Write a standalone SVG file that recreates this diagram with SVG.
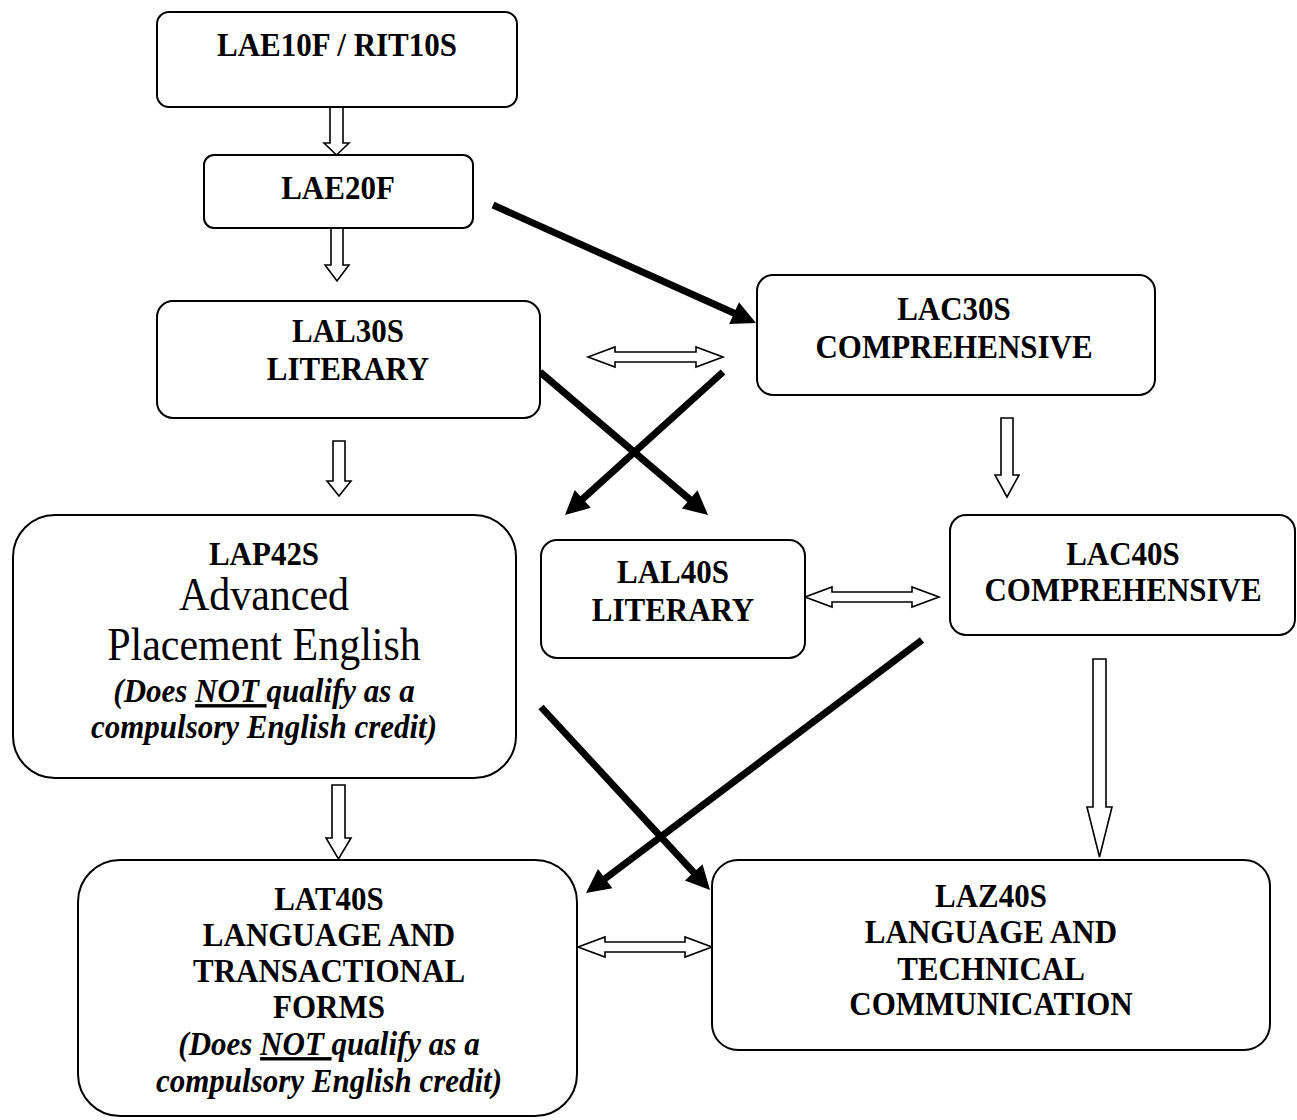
<svg xmlns="http://www.w3.org/2000/svg" width="1297" height="1120" viewBox="0 0 1297 1120">
  <style>
    .box { fill: #ffffff; stroke: #000000; stroke-width: 2; }
    .t { font-family: "Liberation Serif", "Times New Roman", serif; font-size: 31px; font-weight: bold; fill: #000000; text-anchor: middle; }
    .big { font-weight: normal; font-size: 42px; }
    .note { font-style: italic; }
    .u { text-decoration: underline; }
    .hollow { fill: #ffffff; stroke: #000000; stroke-width: 1.6; stroke-linejoin: miter; }
    .shaft { fill: none; stroke: #000000; stroke-width: 7; stroke-linecap: butt; }
    .head { fill: #000000; stroke: none; }
  </style>

  <!-- connectors -->
  <g id="connectors">
    <!-- hollow down arrows -->
    <polygon class="hollow" points="330,107 343,107 343,143 349,143 336.5,155 324,143 330,143"/>
    <polygon class="hollow" points="331,228 343,228 343,265 349,265 337,281 325,265 331,265"/>
    <polygon class="hollow" points="333,441 345,441 345,481 351,481 339,496 327,481 333,481"/>
    <polygon class="hollow" points="1001,418 1013,418 1013,475 1019,475 1007,497 995,475 1001,475"/>
    <polygon class="hollow" points="332,785 345,785 345,838 351,838 338.5,859 326,838 332,838"/>
    <polygon class="hollow" points="1093,659 1106,659 1106,807 1112,807 1099.5,857 1087,807 1093,807"/>

    <!-- hollow double arrows -->
    <polygon class="hollow" points="588,357 615,347 615,352 696,352 696,347 723,357 696,367 696,362 615,362 615,367"/>
    <polygon class="hollow" points="805,597 832,587 832,592 912,592 912,587 939,597 912,607 912,602 832,602 832,607"/>
    <polygon class="hollow" points="578,947 605,937 605,942 685,942 685,937 712,947 685,957 685,952 605,952 605,957"/>

    <!-- solid arrows -->
    <line class="shaft" x1="493" y1="205" x2="736" y2="314"/>
    <polygon class="head" points="756,323 729.2,324.1 739,302.2"/>

    <line class="shaft" x1="540" y1="372" x2="691" y2="500.5"/>
    <polygon class="head" points="708,515 681.9,508.6 697.5,490.3"/>

    <line class="shaft" x1="723" y1="372" x2="581.3" y2="500.2"/>
    <polygon class="head" points="565,515 574.7,490 590.8,507.8"/>

    <line class="shaft" x1="922" y1="640" x2="603.6" y2="879.8"/>
    <polygon class="head" points="586,893 598,869 612.4,888.2"/>

    <line class="shaft" x1="541" y1="707" x2="695" y2="873.8"/>
    <polygon class="head" points="710,890 684.9,880.5 702.5,864.3"/>
  </g>

  <!-- text is drawn slightly taller than wide, as in a tall serif face -->
  <g id="LAE10F">
    <rect class="box" x="157" y="12" width="360" height="95" rx="12"/>
    <text class="t" transform="matrix(1 0 0 1.1 337 56)">LAE10F / RIT10S</text>
  </g>

  <g id="LAE20F">
    <rect class="box" x="204" y="155" width="269" height="73" rx="10"/>
    <text class="t" transform="matrix(1 0 0 1.1 338 199)">LAE20F</text>
  </g>

  <g id="LAL30S">
    <rect class="box" x="157" y="301" width="383" height="117" rx="16"/>
    <text class="t" transform="matrix(1 0 0 1.1 348 342)">LAL30S</text>
    <text class="t" transform="matrix(1 0 0 1.1 348 380)">LITERARY</text>
  </g>

  <g id="LAC30S">
    <rect class="box" x="757" y="275" width="398" height="120" rx="16"/>
    <text class="t" transform="matrix(1 0 0 1.1 954 320)">LAC30S</text>
    <text class="t" transform="matrix(1 0 0 1.1 954 358)">COMPREHENSIVE</text>
  </g>

  <g id="LAP42S">
    <rect class="box" x="13" y="515" width="503" height="263" rx="42"/>
    <text class="t" transform="matrix(1 0 0 1.1 264 565)">LAP42S</text>
    <text class="t big" transform="matrix(1 0 0 1.1 264 610)">Advanced</text>
    <text class="t big" transform="matrix(1 0 0 1.1 264 660)">Placement English</text>
    <text class="t note" transform="matrix(1 0 0 1.1 264 702)">(Does <tspan class="u">NOT </tspan>qualify as a</text>
    <text class="t note" transform="matrix(1 0 0 1.1 264 738)">compulsory English credit)</text>
  </g>

  <g id="LAL40S">
    <rect class="box" x="541" y="540" width="264" height="118" rx="16"/>
    <text class="t" transform="matrix(1 0 0 1.1 673 583)">LAL40S</text>
    <text class="t" transform="matrix(1 0 0 1.1 673 621)">LITERARY</text>
  </g>

  <g id="LAC40S">
    <rect class="box" x="950" y="515" width="345" height="120" rx="16"/>
    <text class="t" transform="matrix(1 0 0 1.1 1123 565)">LAC40S</text>
    <text class="t" transform="matrix(1 0 0 1.1 1123 601)">COMPREHENSIVE</text>
  </g>

  <g id="LAT40S">
    <rect class="box" x="78" y="860" width="499" height="256" rx="42"/>
    <text class="t" transform="matrix(1 0 0 1.1 329 910)">LAT40S</text>
    <text class="t" transform="matrix(1 0 0 1.1 329 946)">LANGUAGE AND</text>
    <text class="t" transform="matrix(1 0 0 1.1 329 982)">TRANSACTIONAL</text>
    <text class="t" transform="matrix(1 0 0 1.1 329 1018)">FORMS</text>
    <text class="t note" transform="matrix(1 0 0 1.1 329 1055)">(Does <tspan class="u">NOT </tspan>qualify as a</text>
    <text class="t note" transform="matrix(1 0 0 1.1 329 1092)">compulsory English credit)</text>
  </g>

  <g id="LAZ40S">
    <rect class="box" x="712" y="860" width="558" height="190" rx="26"/>
    <text class="t" transform="matrix(1 0 0 1.1 991 907)">LAZ40S</text>
    <text class="t" transform="matrix(1 0 0 1.1 991 943)">LANGUAGE AND</text>
    <text class="t" transform="matrix(1 0 0 1.1 991 980)">TECHNICAL</text>
    <text class="t" transform="matrix(1 0 0 1.1 991 1015)">COMMUNICATION</text>
  </g>
</svg>
